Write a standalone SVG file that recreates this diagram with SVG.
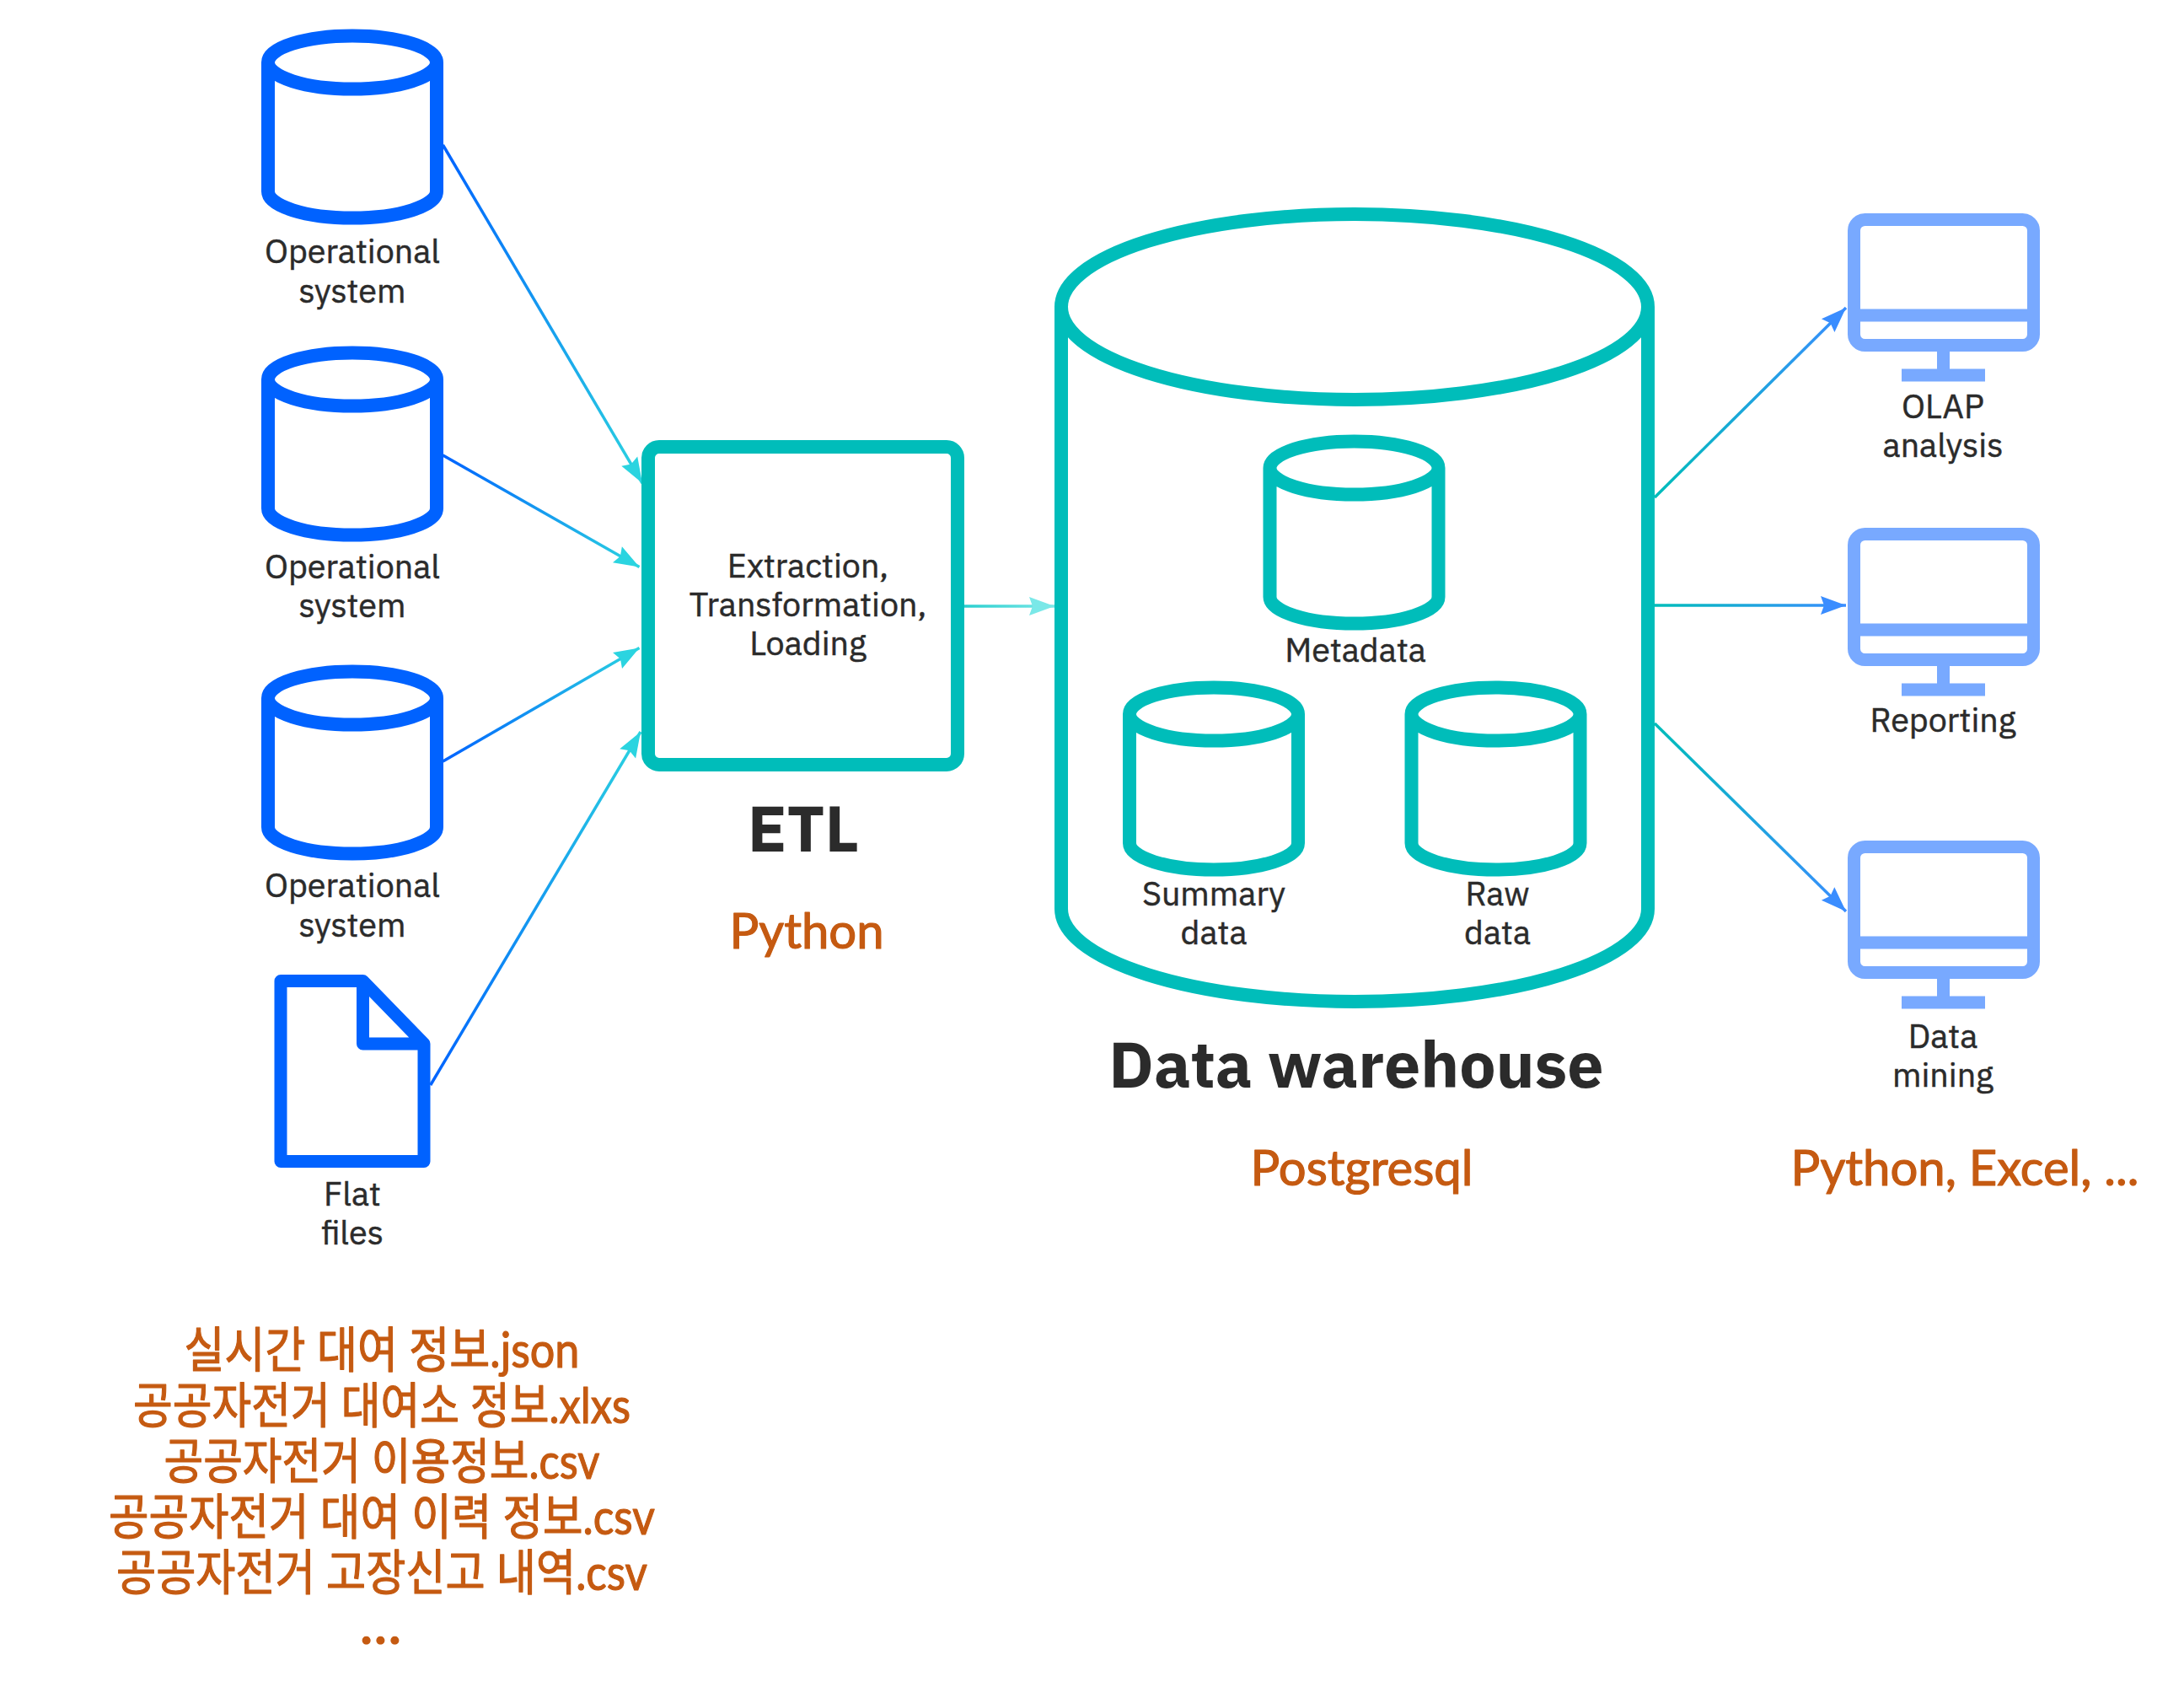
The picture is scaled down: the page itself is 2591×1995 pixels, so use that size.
<svg xmlns="http://www.w3.org/2000/svg" width="2591" height="1995" viewBox="0 0 2591 1995">
<style>
.blue{fill:none;stroke:#0062ff;stroke-width:16;stroke-linejoin:round}
.file{fill:none;stroke:#0062ff;stroke-width:15;stroke-linejoin:round}
.teal{fill:none;stroke:#00bdba;stroke-width:16;stroke-linejoin:round}
.mon{fill:none;stroke:#78a9ff;stroke-width:15}
.lb{font-family:"IBM Plex Sans","Noto Sans","Liberation Sans",sans-serif;font-size:39.5px;fill:#2b2b2b;text-anchor:middle;stroke:#2b2b2b;stroke-width:.5}
.ti{font-family:"IBM Plex Sans","Noto Sans","Liberation Sans",sans-serif;font-weight:700;font-size:77px;fill:#2b2b2b;text-anchor:middle}
.or{font-family:"Lato","Noto Sans CJK KR",sans-serif;font-size:58px;fill:#c55a11;text-anchor:middle;stroke:#c55a11;stroke-width:1.2;stroke-linejoin:round}
.c{fill:none;stroke-width:3.5}
</style>
<defs>
<path id="cyl" d="M-100,39 A100,31.5 0 1 1 100,39 A100,31.5 0 1 1 -100,39 V192 A100,31.5 0 0 0 100,192 V39"/>
<g id="monitor"><rect x="7.5" y="7.5" width="213" height="149" rx="13" class="mon"/><path d="M7.5,121 H220.500 M113.500,164 V185 M64,192 H163" class="mon"/></g>
<marker id="ac" markerUnits="userSpaceOnUse" markerWidth="34" markerHeight="28" refX="32" refY="14" orient="auto"><path d="M2,3 L32,14 L2,25 L6,14 Z" fill="#2bd4e0"/></marker>
<marker id="ab" markerUnits="userSpaceOnUse" markerWidth="34" markerHeight="28" refX="32" refY="14" orient="auto"><path d="M2,3 L32,14 L2,25 L6,14 Z" fill="#3a8dff"/></marker>
<marker id="al" markerUnits="userSpaceOnUse" markerWidth="34" markerHeight="28" refX="32" refY="14" orient="auto"><path d="M2,3 L32,14 L2,25 L6,14 Z" fill="#7ae8e8"/></marker>
<linearGradient id="g1" gradientUnits="userSpaceOnUse" x1="525.500" y1="172" x2="762" y2="573"><stop offset="0" stop-color="#0062ff"/><stop offset="1" stop-color="#2bd4e0"/></linearGradient>
<linearGradient id="g2" gradientUnits="userSpaceOnUse" x1="525.500" y1="540" x2="758.500" y2="672.600"><stop offset="0" stop-color="#0062ff"/><stop offset="1" stop-color="#2bd4e0"/></linearGradient>
<linearGradient id="g3" gradientUnits="userSpaceOnUse" x1="525.500" y1="903" x2="758.500" y2="768.500"><stop offset="0" stop-color="#0062ff"/><stop offset="1" stop-color="#2bd4e0"/></linearGradient>
<linearGradient id="g4" gradientUnits="userSpaceOnUse" x1="510.700" y1="1287" x2="760" y2="868"><stop offset="0" stop-color="#0062ff"/><stop offset="1" stop-color="#2bd4e0"/></linearGradient>
<linearGradient id="g5" gradientUnits="userSpaceOnUse" x1="1144" y1="719" x2="1251" y2="719"><stop offset="0" stop-color="#2bcfcf"/><stop offset="1" stop-color="#7ae8e8"/></linearGradient>
<linearGradient id="g6" gradientUnits="userSpaceOnUse" x1="1963" y1="590" x2="2190" y2="365"><stop offset="0" stop-color="#00bdba"/><stop offset="1" stop-color="#3a8dff"/></linearGradient>
<linearGradient id="g7" gradientUnits="userSpaceOnUse" x1="1963" y1="718" x2="2190" y2="718"><stop offset="0" stop-color="#00bdba"/><stop offset="1" stop-color="#3a8dff"/></linearGradient>
<linearGradient id="g8" gradientUnits="userSpaceOnUse" x1="1963" y1="858" x2="2190" y2="1081"><stop offset="0" stop-color="#00bdba"/><stop offset="1" stop-color="#3a8dff"/></linearGradient>
</defs>
<rect width="2591" height="1995" fill="#fff"/>
<g id="connectors">
<line class="c" x1="525.500" y1="172" x2="762" y2="573" stroke="url(#g1)" marker-end="url(#ac)"/>
<line class="c" x1="525.500" y1="540" x2="758.500" y2="672.600" stroke="url(#g2)" marker-end="url(#ac)"/>
<line class="c" x1="525.500" y1="903" x2="758.500" y2="768.500" stroke="url(#g3)" marker-end="url(#ac)"/>
<line class="c" x1="510.700" y1="1287" x2="760" y2="868" stroke="url(#g4)" marker-end="url(#ac)"/>
<line class="c" x1="1144" y1="719" x2="1251" y2="719" stroke="url(#g5)" marker-end="url(#al)"/>
<line class="c" x1="1963" y1="590" x2="2190" y2="365" stroke="url(#g6)" marker-end="url(#ab)"/>
<line class="c" x1="1963" y1="718" x2="2190" y2="718" stroke="url(#g7)" marker-end="url(#ab)"/>
<line class="c" x1="1963" y1="858" x2="2190" y2="1081" stroke="url(#g8)" marker-end="url(#ab)"/>
</g>
<g id="source1"><use href="#cyl" x="418" y="35" class="blue"/><text class="lb" x="418" y="312">Operational</text><text class="lb" x="418" y="358.500">system</text></g>
<g id="source2"><use href="#cyl" x="418" y="411" class="blue"/><text class="lb" x="418" y="686">Operational</text><text class="lb" x="418" y="732">system</text></g>
<g id="source3"><use href="#cyl" x="418" y="789" class="blue"/><text class="lb" x="418" y="1064">Operational</text><text class="lb" x="418" y="1110.500">system</text></g>
<g id="flatfiles"><path class="file" transform="translate(325.500,1156)" d="M7.5,7.5 H105 L177.500,82 V221.500 H7.5 Z M105,7.5 V82 H177.500"/><text class="lb" x="418" y="1430">Flat</text><text class="lb" x="418" y="1476">files</text></g>
<g id="etl"><rect class="teal" x="769" y="530" width="367" height="377" rx="13"/><text class="lb" x="958.500" y="685">Extraction,</text><text class="lb" x="958.500" y="731">Transformation,</text><text class="lb" x="958.500" y="777">Loading</text><text class="ti" x="953" y="1010">ETL</text></g>
<g id="warehouse"><path class="teal" d="M1259,364 A348,110 0 1 1 1955,364 A348,110 0 1 1 1259,364 V1078 A348,110 0 0 0 1955,1078 V364"/><text class="ti" x="1609" y="1290">Data warehouse</text></g>
<g id="metadata"><use href="#cyl" x="1606.500" y="516" class="teal"/><text class="lb" x="1608" y="785">Metadata</text></g>
<g id="summary"><use href="#cyl" x="1440" y="808" class="teal"/><text class="lb" x="1440" y="1074">Summary</text><text class="lb" x="1440" y="1120">data</text></g>
<g id="raw"><use href="#cyl" x="1774.500" y="808" class="teal"/><text class="lb" x="1776.500" y="1074">Raw</text><text class="lb" x="1776.500" y="1120">data</text></g>
<g id="olap"><use href="#monitor" x="2192" y="253"/><text class="lb" x="2305" y="496">OLAP</text><text class="lb" x="2305" y="542">analysis</text></g>
<g id="reporting"><use href="#monitor" x="2192" y="626"/><text class="lb" x="2305" y="868">Reporting</text></g>
<g id="mining"><use href="#monitor" x="2192" y="997"/><text class="lb" x="2305" y="1243">Data</text><text class="lb" x="2305" y="1289">mining</text></g>
<g id="notes">
<text class="or" x="957" y="1125">Python</text>
<text class="or" x="1615.500" y="1406">Postgresql</text>
<text class="or" x="2331" y="1406">Python, Excel, ...</text>
<text class="or" x="453" y="1622" textLength="469" lengthAdjust="spacingAndGlyphs">실시간 대여 정보.json</text>
<text class="or" x="453" y="1688" textLength="590" lengthAdjust="spacingAndGlyphs">공공자전거 대여소 정보.xlxs</text>
<text class="or" x="453" y="1754" textLength="517" lengthAdjust="spacingAndGlyphs">공공자전거 이용정보.csv</text>
<text class="or" x="453" y="1820" textLength="648" lengthAdjust="spacingAndGlyphs">공공자전거 대여 이력 정보.csv</text>
<text class="or" x="453" y="1886" textLength="630" lengthAdjust="spacingAndGlyphs">공공자전거 고장신고 내역.csv</text>
<text class="or" x="453" y="1950" letter-spacing="3" font-weight="700">...</text>
</g>
</svg>
